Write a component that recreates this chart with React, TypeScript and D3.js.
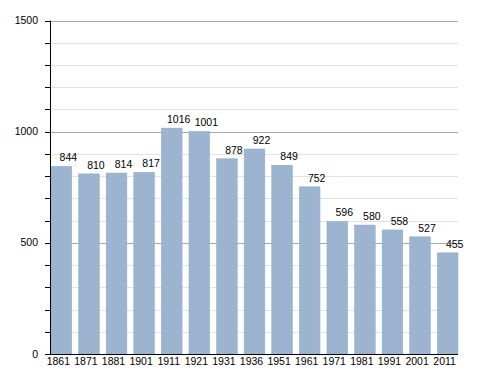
import React, { useRef, useEffect } from "react";
import * as d3 from "d3";

const years = ["1861", "1871", "1881", "1901", "1911", "1921", "1931", "1936", "1951", "1961", "1971", "1981", "1991", "2001", "2011"];
const population = [844, 810, 814, 817, 1016, 1001, 878, 922, 849, 752, 596, 580, 558, 527, 455];
const yTicks = [0, 500, 1000, 1500];

export default function App() {
  const svgRef = useRef<SVGSVGElement>(null);

  useEffect(() => {
    const svg = d3.select(svgRef.current);
    svg.selectAll("*").remove();

    const left = 50, right = 458, top = 20.5, bottom = 354;
    const font = "Liberation Sans, Arial, sans-serif";

    const x = d3.scaleBand<string>()
      .domain(years)
      .range([left + 1, right])
      .paddingInner(0.25)
      .paddingOuter(0);
    const y = d3.scaleLinear().domain([0, 1500]).range([bottom, top]);

    // grid lines (minor every 100, major every 500)
    const minor = d3.range(100, 1501, 100).filter(v => v % 500 !== 0);
    svg.append("g")
      .selectAll("line")
      .data(minor)
      .enter()
      .append("line")
      .attr("x1", left).attr("x2", right)
      .attr("y1", d => Math.round(y(d)) + 0.5).attr("y2", d => Math.round(y(d)) + 0.5)
      .attr("stroke", "#e2e2e2");
    svg.append("g")
      .selectAll("line")
      .data(yTicks.filter(v => v > 0))
      .enter()
      .append("line")
      .attr("x1", left).attr("x2", right)
      .attr("y1", d => Math.round(y(d)) + 0.5).attr("y2", d => Math.round(y(d)) + 0.5)
      .attr("stroke", "#a8a8a8");

    // bars
    svg.append("g")
      .selectAll("rect")
      .data(population)
      .enter()
      .append("rect")
      .attr("x", (d, i) => x(years[i])!)
      .attr("width", x.bandwidth())
      .attr("y", d => y(d))
      .attr("height", d => bottom - y(d))
      .attr("fill", "#9cb4d0")
      .attr("stroke", "#8fa9c7")
      .attr("stroke-width", 0.5);

    // value labels
    svg.append("g")
      .selectAll("text")
      .data(population)
      .enter()
      .append("text")
      .attr("x", (d, i) => x(years[i])! + x.bandwidth() / 2 + 7)
      .attr("y", d => y(d) - 5)
      .attr("text-anchor", "middle")
      .style("font-family", font)
      .style("font-size", "10.5px")
      .style("fill", "#000")
      .text(d => d);

    // y axis
    const yAxis = svg.append("g");
    yAxis.append("line")
      .attr("x1", left + 0.5).attr("x2", left + 0.5)
      .attr("y1", top).attr("y2", bottom)
      .attr("stroke", "#000");
    yAxis.selectAll(".tick")
      .data(d3.range(0, 1501, 100))
      .enter()
      .append("line")
      .attr("x1", left - 5).attr("x2", left)
      .attr("y1", d => Math.round(y(d)) + 0.5).attr("y2", d => Math.round(y(d)) + 0.5)
      .attr("stroke", "#000");
    yAxis.selectAll("text")
      .data(yTicks)
      .enter()
      .append("text")
      .attr("x", 38)
      .attr("y", d => y(d) + 3.5)
      .attr("text-anchor", "end")
      .style("font-family", font)
      .style("font-size", "10.5px")
      .style("fill", "#000")
      .text(d => d);

    // x axis
    svg.append("line")
      .attr("x1", left).attr("x2", right)
      .attr("y1", bottom + 0.5).attr("y2", bottom + 0.5)
      .attr("stroke", "#000");
    svg.append("g")
      .selectAll("text")
      .data(years)
      .enter()
      .append("text")
      .attr("x", d => x(d)! + x.bandwidth() / 2 - 3)
      .attr("y", 365)
      .attr("text-anchor", "middle")
      .style("font-family", font)
      .style("font-size", "10.5px")
      .style("fill", "#000")
      .text(d => d);
  }, []);

  return (
    <svg ref={svgRef} width={488} height={373}
      style={{ position: "absolute", left: 0, top: 0, background: "#fff" }} />
  );
}
